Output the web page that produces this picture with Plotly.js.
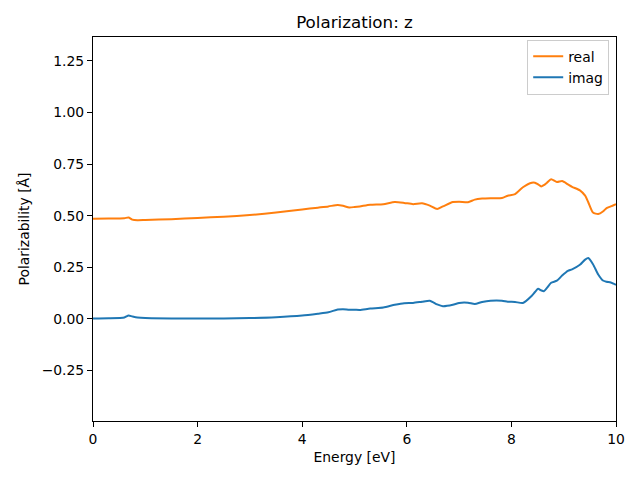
<!DOCTYPE html>
<html>
<head>
<meta charset="utf-8">
<script src="https://cdn.plot.ly/plotly-3.0.1.min.js"></script>
<style>html,body{margin:0;padding:0;background:#fff;}#plot{width:640px;height:480px;}</style>
</head>
<body>
<div id="plot"></div>
<script>
const energy = [0, 0.3, 0.6, 0.68, 0.75, 0.85, 1.0, 1.5, 2.0, 2.5, 3.0, 3.5, 4.0, 4.3, 4.5, 4.68, 4.78, 4.9, 5.0, 5.1, 5.3, 5.55, 5.77, 5.95, 6.12, 6.29, 6.44, 6.58, 6.69, 6.88, 7.0, 7.17, 7.3, 7.44, 7.6, 7.82, 7.93, 8.07, 8.22, 8.39, 8.45, 8.51, 8.57, 8.62, 8.68, 8.76, 8.87, 8.97, 9.08, 9.16, 9.31, 9.41, 9.47, 9.56, 9.66, 9.75, 9.82, 9.9, 10.0];
const realPart = [0.485, 0.486, 0.488, 0.491, 0.481, 0.478, 0.479, 0.483, 0.489, 0.495, 0.503, 0.515, 0.530, 0.539, 0.545, 0.552, 0.548, 0.540, 0.542, 0.545, 0.553, 0.556, 0.566, 0.562, 0.556, 0.560, 0.549, 0.533, 0.545, 0.566, 0.568, 0.565, 0.578, 0.583, 0.585, 0.586, 0.597, 0.605, 0.638, 0.660, 0.660, 0.652, 0.642, 0.648, 0.660, 0.677, 0.663, 0.668, 0.652, 0.640, 0.623, 0.597, 0.565, 0.515, 0.508, 0.520, 0.537, 0.545, 0.556];
const imagPart = [0.002, 0.003, 0.007, 0.016, 0.012, 0.007, 0.004, 0.002, 0.002, 0.002, 0.004, 0.008, 0.016, 0.025, 0.032, 0.045, 0.047, 0.044, 0.044, 0.043, 0.050, 0.055, 0.068, 0.076, 0.077, 0.083, 0.088, 0.070, 0.061, 0.068, 0.077, 0.078, 0.072, 0.082, 0.088, 0.088, 0.083, 0.082, 0.077, 0.112, 0.130, 0.146, 0.138, 0.134, 0.150, 0.175, 0.185, 0.210, 0.233, 0.240, 0.262, 0.287, 0.295, 0.265, 0.215, 0.186, 0.180, 0.176, 0.165];
const yTicks = [-0.25, 0, 0.25, 0.5, 0.75, 1.0, 1.25];
const xTicks = [0, 2, 4, 6, 8, 10];

const font = 'DejaVu Sans, sans-serif';
const traces = [
  {x: energy, y: realPart, name: 'real', type: 'scatter', mode: 'lines',
   line: {color: '#ff7f0e', width: 2, shape: 'spline', smoothing: 0.6}},
  {x: energy, y: imagPart, name: 'imag', type: 'scatter', mode: 'lines',
   line: {color: '#1f77b4', width: 2, shape: 'spline', smoothing: 0.6}}
];
const axisCommon = {
  showgrid: false, zeroline: false, showline: true, mirror: true,
  linecolor: '#000', linewidth: 1, ticks: 'outside', ticklen: 5, tickwidth: 1,
  tickcolor: '#000', tickfont: {family: font, size: 13.9, color: '#000'}
};
const layout = {
  width: 640, height: 480,
  margin: {l: 93, r: 24, t: 37, b: 59},
  paper_bgcolor: '#fff', plot_bgcolor: '#fff',
  title: {text: 'Polarization: z', font: {family: font, size: 16.7, color: '#000'},
          x: 0.5, xref: 'paper', y: 1 - 22/480, yanchor: 'middle'},
  xaxis: Object.assign({}, axisCommon, {
    range: [0, 10], tickvals: xTicks, ticktext: xTicks.map(String),
    title: {text: 'Energy [eV]', font: {family: font, size: 13.9, color: '#000'}, standoff: 6}
  }),
  yaxis: Object.assign({}, axisCommon, {
    range: [-0.495, 1.366], tickvals: yTicks, ticktext: yTicks.map(v => (v < 0 ? '\u2212' : '') + Math.abs(v).toFixed(2)),
    title: {text: 'Polarizability [Å]', font: {family: font, size: 13.9, color: '#000'}, standoff: 8}
  }),
  showlegend: true,
  legend: {x: 0.987, y: 0.993, xanchor: 'right', yanchor: 'top',
           bgcolor: 'rgba(255,255,255,0.8)', bordercolor: '#cccccc', borderwidth: 1,
           font: {family: font, size: 13.9, color: '#000'}, tracegroupgap: 0}
};
Plotly.newPlot('plot', traces, layout, {displayModeBar: false, staticPlot: true});
</script>
</body>
</html>
